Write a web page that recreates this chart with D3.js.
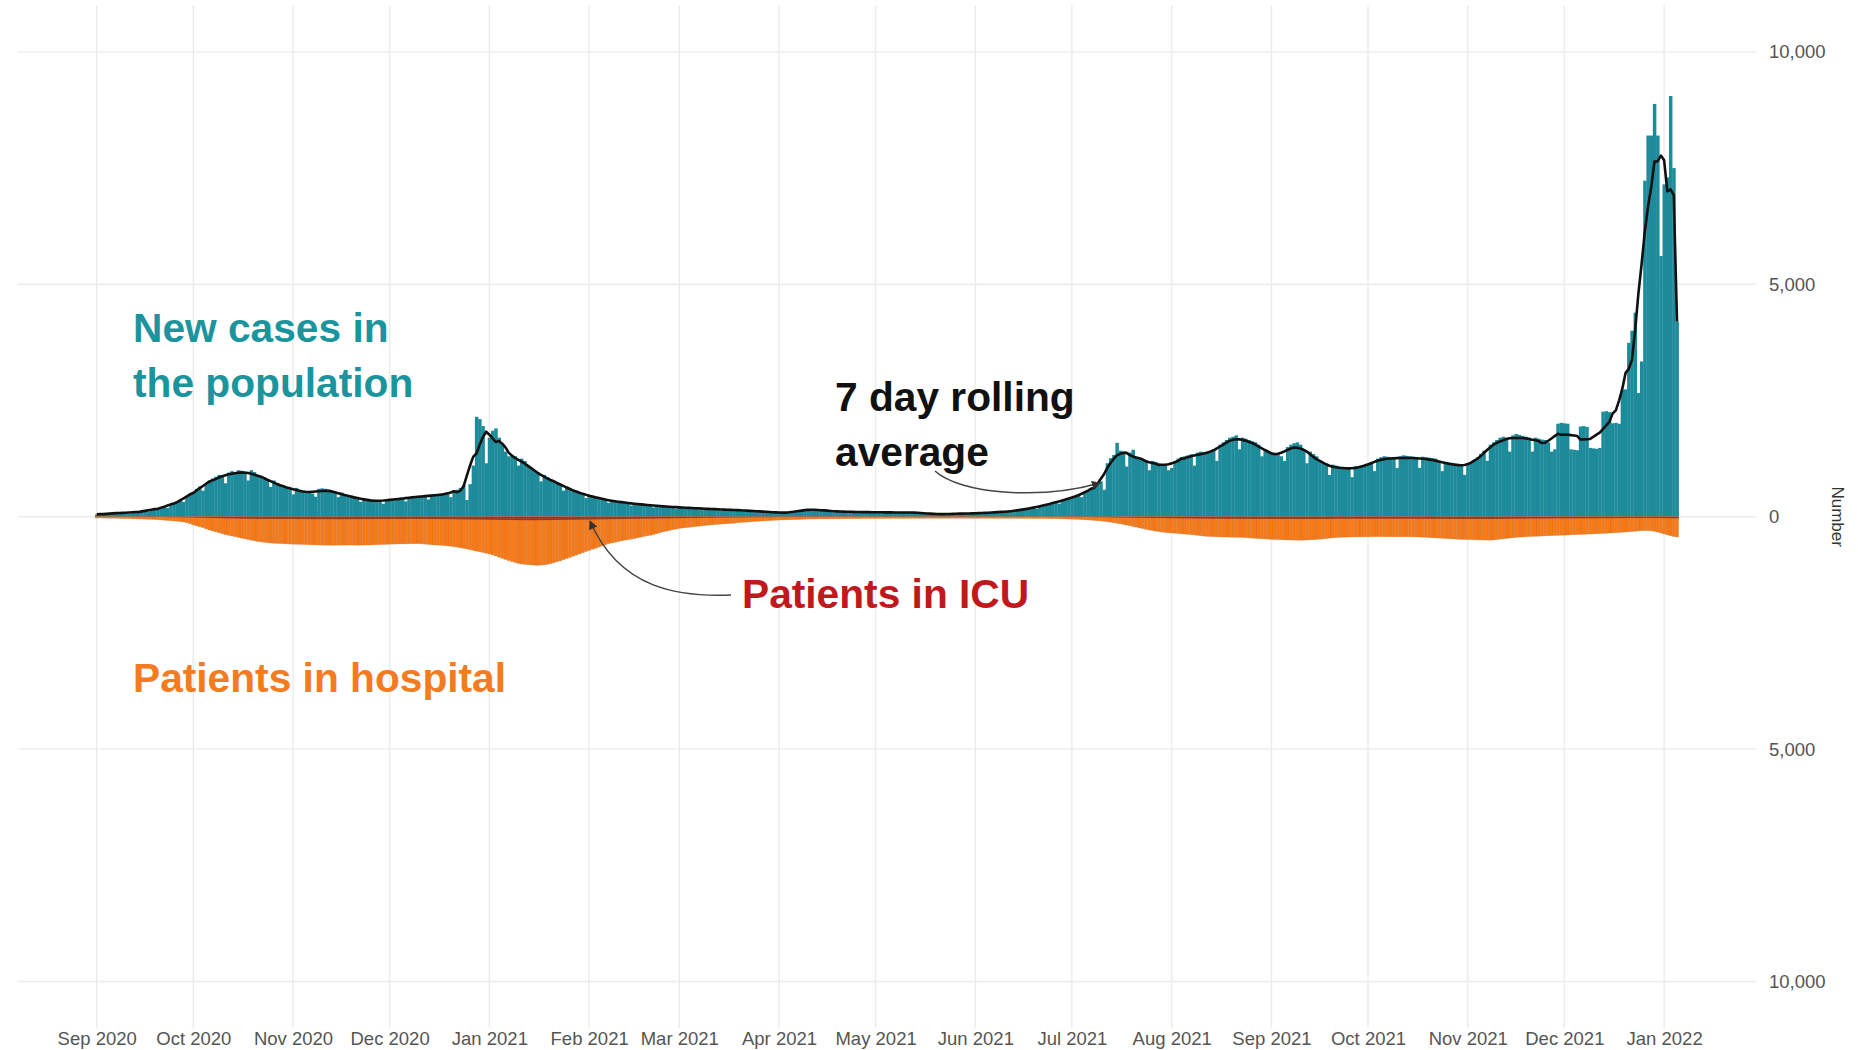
<!DOCTYPE html>
<html><head><meta charset="utf-8">
<script src="https://cdn.jsdelivr.net/npm/d3@7"></script>
<style>
body{margin:0;background:#fff}
svg{display:block}
text{font-family:"Liberation Sans",Arial,sans-serif}
</style>
</head><body>
<svg id="chart" width="1858" height="1050"></svg>
<script>
// ---------- DATA ----------
const firstDay = "2020-09-01";   // daily series start
const lastDay  = "2022-01-05";   // daily series end

const xTickDates = ["2020-09-01","2020-10-01","2020-11-01","2020-12-01","2021-01-01","2021-02-01","2021-03-01","2021-04-01","2021-05-01","2021-06-01","2021-07-01","2021-08-01","2021-09-01","2021-10-01","2021-11-01","2021-12-01","2022-01-01"];
const xTickLabels = ["Sep 2020","Oct 2020","Nov 2020","Dec 2020","Jan 2021","Feb 2021","Mar 2021","Apr 2021","May 2021","Jun 2021","Jul 2021","Aug 2021","Sep 2021","Oct 2021","Nov 2021","Dec 2021","Jan 2022"];
const yTickValues = [10000, 5000, 0, -5000, -10000];
const yTickLabels = ["10,000","5,000","0","5,000","10,000"];

// New cases in the population (daily)
const cases = [
 50,55,60,45,70,72,76,85,90,95,65,90,100,110,120,130,100,150,165,180,200,220,190,260,300,330,360,320,430,490,
 520,600,650,560,700,780,820,860,900,880,720,950,980,960,1000,990,950,780,1000,960,900,880,850,800,640,780,720,690,660,640,600,
 480,620,580,560,540,520,500,430,600,610,600,580,560,520,420,520,480,460,440,420,400,320,390,370,360,350,340,330,280,380,
 370,380,390,400,390,330,420,430,440,450,450,440,370,470,480,480,490,500,480,420,560,580,620,680,360,700,1100,2150,2100,1950,1150,
 1700,1850,1900,1700,1550,1400,1300,1300,1300,1100,1250,1200,1100,1050,1000,950,760,900,850,800,780,740,700,560,650,620,580,540,520,490,400,
 460,450,430,410,390,370,300,350,340,330,320,310,300,240,290,280,270,265,260,250,200,240,235,230,225,220,210,170,
 210,205,200,195,190,180,150,185,180,175,170,165,160,130,160,155,150,150,145,140,115,135,130,125,120,115,110,90,105,100,95,
 90,85,80,70,90,110,130,150,155,160,125,160,155,150,140,130,120,95,120,115,112,110,108,105,85,105,102,100,100,98,
 98,80,98,96,95,95,94,92,75,94,93,92,92,90,88,70,70,62,58,55,55,54,45,60,62,65,68,70,72,60,72,
 74,76,80,85,88,75,95,100,105,110,115,120,100,135,145,160,175,190,200,170,225,245,265,285,305,320,280,350,370,390,
 420,450,480,420,520,560,600,650,700,760,580,1150,1260,1330,1590,1420,1400,1080,1380,1440,1300,1250,1220,1200,1000,1200,1180,1150,1130,1120,1000,
 1050,1200,1250,1280,1300,1320,1340,1100,1380,1400,1380,1400,1420,1450,1200,1550,1600,1650,1700,1720,1750,1450,1700,1680,1650,1620,1600,1550,1300,1450,1400,
 1380,1360,1340,1300,1200,1500,1550,1580,1600,1550,1450,1150,1400,1350,1300,1200,1150,1120,900,1120,1100,1080,1070,1060,1050,850,1080,1090,1100,1120,
 1150,1180,980,1250,1280,1300,1290,1280,1270,1050,1300,1320,1310,1300,1290,1280,1050,1290,1280,1270,1260,1250,1200,980,1180,1170,1160,1150,1140,1120,900,
 1130,1150,1200,1280,1350,1420,1200,1550,1600,1650,1700,1720,1700,1400,1750,1780,1760,1740,1720,1700,1400,1700,1680,1660,1650,1600,1400,1450,2000,2020,
 2010,2000,1450,1440,1430,1940,1950,1930,1480,1470,1460,1480,2260,2270,2250,2010,2020,2000,2730,2740,3740,4000,4390,2660,3340,7230,8200,8200,8880,8200,5610,
 7150,7300,9050,7500,4200
];

// Patients in hospital (daily)
const hospital = [
 28,29,30,31,32,33,34,36,38,40,42,44,46,48,50,52,55,58,62,66,70,75,80,86,92,98,105,115,130,150,
 175,195,215,235,260,285,305,325,345,365,385,400,415,430,445,460,475,490,505,518,530,540,550,558,565,570,575,578,582,585,588,
 590,592,595,597,600,602,604,606,608,610,612,612,613,614,613,612,612,611,610,612,613,612,611,610,608,605,602,600,598,595,
 592,590,588,586,585,584,583,582,581,580,584,590,596,602,608,612,615,620,628,636,645,655,668,680,695,710,725,740,755,770,785,
 800,820,845,870,895,920,945,965,985,1005,1015,1025,1032,1038,1042,1045,1040,1035,1025,1010,990,970,950,925,900,875,850,825,800,775,750,
 725,700,680,655,630,605,580,565,550,535,520,505,495,485,470,455,440,425,410,400,385,365,345,325,310,295,280,265,
 252,244,236,228,220,212,204,196,188,180,175,170,165,160,155,150,145,140,130,125,120,115,110,105,100,96,92,88,84,80,76,
 72,70,68,66,64,62,60,57,54,50,49,48,47,47,46,46,45,45,44,44,43,43,42,42,41,41,40,40,39,38,
 38,38,37,37,37,36,36,36,36,36,35,35,35,35,35,35,34,34,34,34,34,34,34,33,33,33,33,33,33,34,34,
 34,34,34,34,34,34,35,35,35,35,35,36,36,36,36,37,37,38,38,39,39,40,40,41,42,43,44,46,48,50,
 52,55,58,62,66,70,75,80,86,92,100,108,118,128,140,152,165,180,195,210,225,240,255,270,285,298,310,320,330,340,346,
 350,356,362,368,374,380,386,392,400,410,418,422,426,429,432,434,436,438,440,442,443,445,446,450,455,460,465,470,474,478,482,
 488,490,493,496,498,500,502,504,505,506,505,502,498,494,490,485,478,470,462,455,450,446,442,440,438,436,435,434,433,432,
 432,431,430,430,430,430,431,431,432,432,432,432,432,432,433,435,438,441,444,448,452,456,460,464,468,472,476,480,484,487,490,
 492,494,496,498,500,502,504,505,500,492,484,476,468,460,453,446,440,436,432,428,425,422,419,416,413,410,407,404,401,398,
 396,393,390,387,384,381,378,375,372,369,366,363,360,356,352,348,344,340,335,330,325,318,312,306,300,298,300,305,315,330,350,
 370,390,410,425,435
];

// Patients in ICU (daily)
const icu = [
 4,4,4,4,4,5,5,5,5,5,5,6,6,6,6,7,7,7,8,8,8,9,9,10,10,11,12,13,14,15,
 16,18,20,22,24,26,28,30,32,34,36,38,39,40,41,42,43,44,45,46,46,47,47,48,48,48,49,49,49,50,50,
 50,50,51,51,52,52,52,53,53,53,54,54,54,54,54,54,53,53,53,52,52,52,51,51,51,50,50,50,50,50,
 50,50,49,49,49,49,48,48,48,48,49,49,50,50,51,51,52,52,53,53,54,55,56,57,58,59,60,61,62,63,64,
 65,66,67,68,69,70,71,72,73,74,74,75,75,75,75,75,74,74,73,72,71,70,69,68,67,66,65,64,63,62,61,
 60,59,58,57,56,55,54,53,52,51,50,49,48,47,46,45,44,43,42,41,40,39,38,37,36,35,34,33,
 32,31,30,29,28,27,26,25,24,23,22,21,20,19,18,17,16,15,15,14,14,13,13,12,12,11,11,10,10,10,9,
 9,9,9,8,8,8,8,8,7,7,7,7,7,7,7,6,6,6,6,6,6,6,6,6,6,5,5,5,5,5,
 5,5,5,5,5,5,5,5,5,5,5,5,5,5,5,5,5,5,5,5,5,5,5,5,5,5,5,5,5,5,5,
 5,5,5,5,5,5,5,5,5,5,5,5,5,5,5,5,5,5,5,5,5,5,5,5,6,6,6,6,7,7,
 7,7,8,8,8,9,9,10,10,11,12,13,14,15,16,17,18,19,20,21,22,23,24,25,26,27,28,29,30,31,32,
 33,34,35,36,37,38,39,40,40,41,41,42,42,43,43,44,44,44,45,45,45,46,46,46,46,47,47,47,47,48,48,
 48,48,49,49,49,49,50,50,50,50,50,49,49,49,48,48,47,47,46,46,45,45,44,44,44,43,43,43,43,43,
 43,43,43,43,43,43,43,43,43,43,43,43,43,43,43,44,44,44,44,45,45,45,46,46,46,47,47,47,48,48,48,
 48,48,49,49,49,50,50,50,49,48,47,46,45,44,43,43,42,42,41,41,40,40,40,39,39,39,38,38,38,37,
 37,37,36,36,36,35,35,35,34,34,34,33,33,33,32,32,32,31,31,30,30,29,29,28,28,28,28,29,29,30,30,
 31,32,33,34,35
];

// ---------- CHART ----------
const panel = {left: 17.7, right: 1756, top: 5.4, bottom: 1028};
const DAY = 864e5;
const parse = d3.utcParse("%Y-%m-%d");
const d0 = parse(firstDay), d1 = parse(lastDay);
const pad = (d1 - d0) * 0.05;

const dates = cases.map((_, i) => new Date(+d0 + i * DAY));

const x = d3.scaleUtc().domain([new Date(+d0 - pad), new Date(+d1 + pad)]).range([panel.left, panel.right]);
const y = d3.scaleLinear().domain([-11000, 11000]).range([panel.bottom, panel.top]);
const bw = x(new Date(+d0 + DAY)) - x(d0);

const svg = d3.select("#chart");

// grid
const g = svg.append("g");
g.selectAll(".vg").data(xTickDates.map(parse)).join("line")
  .attr("x1", d => x(d)).attr("x2", d => x(d))
  .attr("y1", panel.top).attr("y2", panel.bottom)
  .attr("stroke", "#ebebeb").attr("stroke-width", 1.4);
g.selectAll(".hg").data(yTickValues).join("line")
  .attr("x1", panel.left).attr("x2", panel.right)
  .attr("y1", d => y(d)).attr("y2", d => y(d))
  .attr("stroke", "#ebebeb").attr("stroke-width", 1.4);

// bars
const bars = svg.append("g");
bars.selectAll(".c").data(cases).join("rect")
  .attr("x", (d, i) => x(dates[i]) - bw / 2).attr("width", bw + 0.3)
  .attr("y", d => y(d)).attr("height", d => y(0) - y(d))
  .attr("fill", "#1e8b9b");
bars.selectAll(".h").data(hospital).join("rect")
  .attr("x", (d, i) => x(dates[i]) - bw / 2).attr("width", bw)
  .attr("y", y(0)).attr("height", d => y(-d) - y(0))
  .attr("fill", "#f67b18").attr("stroke", "rgba(190,95,40,0.35)").attr("stroke-width", 0.6);
bars.selectAll(".u").data(icu).join("rect")
  .attr("x", (d, i) => x(dates[i]) - bw / 2).attr("width", bw + 0.3)
  .attr("y", y(0)).attr("height", d => y(-d) - y(0))
  .attr("fill", "#9a3a20");

// 7 day rolling average (centred)
const roll = cases.map((v, i) => {
  const w = Math.min(3, i, cases.length - 1 - i);
  return d3.mean(cases.slice(i - w, i + w + 1));
});
svg.append("path").datum(roll)
  .attr("d", d3.line().x((d, i) => x(dates[i])).y(d => y(d)))
  .attr("fill", "none").attr("stroke", "#111").attr("stroke-width", 2.6)
  .attr("stroke-linejoin", "round");

// axes
const xAxis = svg.append("g").attr("transform", `translate(0,${panel.bottom})`)
  .call(d3.axisBottom(x).tickValues(xTickDates.map(parse)).tickSize(0).tickPadding(4)
    .tickFormat((d, i) => xTickLabels[i]));
xAxis.select(".domain").remove();
xAxis.selectAll("text").attr("font-size", 18.5).attr("fill", "#555")
  .attr("font-family", "'Liberation Sans', Arial, sans-serif");

const yAxis = svg.append("g").attr("transform", `translate(${panel.right},0)`)
  .call(d3.axisRight(y).tickValues(yTickValues).tickSize(0).tickPadding(13)
    .tickFormat((d, i) => yTickLabels[i]));
yAxis.select(".domain").remove();
yAxis.selectAll("text").attr("font-size", 18.5).attr("fill", "#555")
  .attr("font-family", "'Liberation Sans', Arial, sans-serif");

svg.append("text").attr("transform", `translate(1832,${y(0)}) rotate(90)`)
  .attr("text-anchor", "middle").attr("font-size", 17).attr("fill", "#333").text("Number");

// annotations
const ann = svg.append("g").attr("font-weight", "bold").attr("font-size", 40.7);
ann.append("text").attr("x", 133).attr("y", 342).attr("fill", "#1b959d").text("New cases in");
ann.append("text").attr("x", 133).attr("y", 397).attr("fill", "#1b959d").text("the population");
ann.append("text").attr("x", 835).attr("y", 411).attr("fill", "#111").text("7 day rolling");
ann.append("text").attr("x", 835).attr("y", 466).attr("fill", "#111").text("average");
ann.append("text").attr("x", 742).attr("y", 608).attr("fill", "#c1181d").text("Patients in ICU");
ann.append("text").attr("x", 133).attr("y", 692).attr("fill", "#f47b20").text("Patients in hospital");

// arrows
svg.append("defs").append("marker").attr("id", "ah")
  .attr("viewBox", "0 0 10 10").attr("refX", 9).attr("refY", 5)
  .attr("markerWidth", 9).attr("markerHeight", 9).attr("markerUnits", "userSpaceOnUse")
  .attr("orient", "auto")
  .append("path").attr("d", "M0,0 L10,5 L0,10 z").attr("fill", "#333");
svg.append("path").attr("d", "M731,595 C680,597 620,590 590,521")
  .attr("fill", "none").attr("stroke", "#444").attr("stroke-width", 1.5).attr("marker-end", "url(#ah)");
svg.append("path").attr("d", "M935,471 C960,494 1040,500 1100,483")
  .attr("fill", "none").attr("stroke", "#444").attr("stroke-width", 1.5).attr("marker-end", "url(#ah)");
</script>
</body></html>
